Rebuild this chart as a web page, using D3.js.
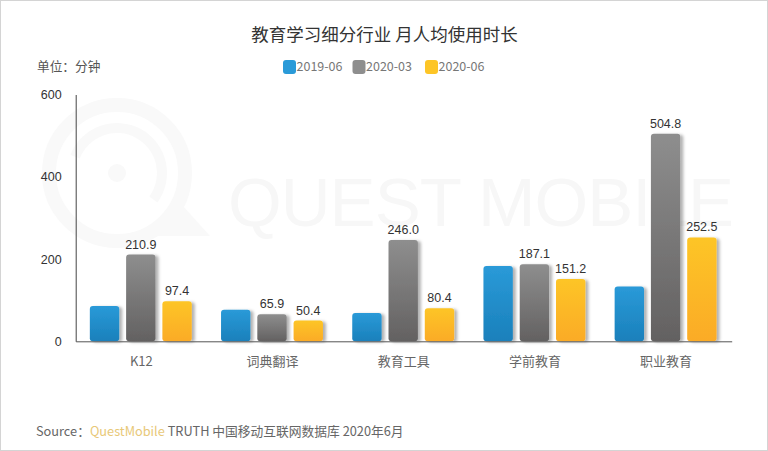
<!DOCTYPE html>
<html>
<head>
<meta charset="utf-8">
<script src="https://cdn.jsdelivr.net/npm/d3@7/dist/d3.min.js"></script>
<style>
  html, body { margin: 0; padding: 0; background: #fff; }
  svg { display: block; }
  text { font-family: "Noto Sans CJK SC", "Liberation Sans", sans-serif; }
</style>
</head>
<body>
<div id="chart"></div>
<script>
var categories = ['K12', '词典翻译', '教育工具', '学前教育', '职业教育'];
var seriesNames = ['2019-06', '2020-03', '2020-06'];
var values2019 = [86, 77, 69, 183, 133];
var values202003 = [210.9, 65.9, 246.0, 187.1, 504.8];
var values202006 = [97.4, 50.4, 80.4, 151.2, 252.5];
var yTicks = [0, 200, 400, 600];

var allValues = [values2019, values202003, values202006];
var showLabel = [false, true, true];
var colors = [['#2a9ad8', '#1a80bb'], ['#8e8e8e', '#636161'], ['#fdc526', '#fbab28']];

var width = 768, height = 451;

var svg = d3.select('#chart').append('svg').attr('width', width).attr('height', height);
var defs = svg.append('defs');

colors.forEach(function(c, i) {
  var grad = defs.append('linearGradient').attr('id', 'grad' + i)
    .attr('x1', 0).attr('y1', 0).attr('x2', 0).attr('y2', 1);
  grad.append('stop').attr('offset', '0%').attr('stop-color', c[0]);
  grad.append('stop').attr('offset', '100%').attr('stop-color', c[1]);
});

var shadow = defs.append('filter').attr('id', 'shadow')
  .attr('x', '-20%').attr('y', '-10%').attr('width', '150%').attr('height', '120%');
shadow.append('feDropShadow').attr('dx', 3).attr('dy', 1).attr('stdDeviation', 1.6)
  .attr('flood-color', '#000').attr('flood-opacity', 0.3);

// image border
svg.append('rect').attr('x', 0.5).attr('y', 0.5).attr('width', width - 1).attr('height', height - 1)
  .attr('fill', 'none').attr('stroke', '#d4d4d4');

// watermark
var wm = svg.append('g').attr('fill', 'none').attr('stroke', '#f9f9f9');
wm.append('circle').attr('cx', 117).attr('cy', 173).attr('r', 68).attr('stroke-width', 14);
wm.append('path').attr('d', d3.arc()({innerRadius: 40, outerRadius: 50, startAngle: -1.2, endAngle: 2.2}))
  .attr('transform', 'translate(117,173)').attr('fill', '#f9f9f9').attr('stroke', 'none');
wm.append('circle').attr('cx', 117).attr('cy', 173).attr('r', 9).attr('fill', '#f9f9f9').attr('stroke', 'none');
wm.append('path').attr('d', 'M182,205 L210,236 L150,236').attr('fill', '#f9f9f9').attr('stroke', 'none');
svg.append('text').text('QUEST MOBILE')
  .attr('x', 228).attr('y', 226).attr('fill', '#f7f7f7')
  .attr('font-size', 69).attr('textLength', 506)
  .attr('style', 'font-family:"Liberation Sans",sans-serif');

var x = d3.scaleBand().domain(categories).range([75.7, 731.7]);
var xSub = d3.scaleBand().domain(seriesNames).range([-54, 53]).paddingInner(0.19).paddingOuter(0.07);
var y = d3.scaleLinear().domain([0, 600]).range([341.3, 94.5]);

// bars
seriesNames.forEach(function(name, s) {
  var g = svg.append('g');
  g.selectAll('rect').data(categories).enter().append('rect')
    .attr('x', function(d) { return x(d) + x.bandwidth() / 2 + xSub(name); })
    .attr('y', function(d, i) { return y(allValues[s][i]); })
    .attr('width', xSub.bandwidth())
    .attr('height', function(d, i) { return y(0) - y(allValues[s][i]); })
    .attr('rx', 3)
    .attr('fill', 'url(#grad' + s + ')')
    .attr('filter', 'url(#shadow)');

  if (showLabel[s]) {
    g.selectAll('text').data(categories).enter().append('text')
      .attr('x', function(d) { return x(d) + x.bandwidth() / 2 + xSub(name) + xSub.bandwidth() / 2; })
      .attr('y', function(d, i) { return y(allValues[s][i]) - 6; })
      .attr('text-anchor', 'middle')
      .attr('font-size', 12.5)
      .attr('fill', '#333')
      .attr('style', 'font-family:"Liberation Sans",sans-serif')
      .text(function(d, i) { return allValues[s][i].toFixed(1); });
  }
});

// axes
var yAxis = svg.append('g').attr('transform', 'translate(75.7,0)')
  .call(d3.axisLeft(y).tickValues(yTicks).tickSize(0).tickPadding(14));
yAxis.select('.domain').attr('stroke', '#444').attr('stroke-width', 1);
yAxis.selectAll('text').attr('font-size', 12.5).attr('fill', '#333')
  .attr('style', 'font-family:"Liberation Sans",sans-serif');

var xAxis = svg.append('g').attr('transform', 'translate(0,341.3)')
  .call(d3.axisBottom(x).tickSize(0).tickPadding(15));
xAxis.select('.domain').attr('stroke', '#555').attr('stroke-width', 1);
xAxis.selectAll('text').attr('font-size', 13).attr('fill', '#666');

// title and unit
svg.append('text').text('教育学习细分行业 月人均使用时长')
  .attr('x', 384.5).attr('y', 41).attr('text-anchor', 'middle')
  .attr('font-size', 17.5).attr('fill', '#333');
svg.append('text').text('单位：分钟')
  .attr('x', 37).attr('y', 70.5).attr('font-size', 12.7).attr('fill', '#555');

// legend
var legendX = [283, 352.5, 425];
var legend = svg.append('g').selectAll('g').data(seriesNames).enter().append('g')
  .attr('transform', function(d, i) { return 'translate(' + legendX[i] + ',60)'; });
legend.append('rect').attr('width', 13).attr('height', 14).attr('rx', 3)
  .attr('fill', function(d, i) { return colors[i][0]; });
legend.append('text').text(function(d) { return d; })
  .attr('x', 13.5).attr('y', 11).attr('font-size', 12.5).attr('fill', '#777');

// source
var source = svg.append('text').attr('x', 36).attr('y', 436).attr('font-size', 12.75).attr('fill', '#666');
source.append('tspan').text('Source：');
source.append('tspan').text('QuestMobile').attr('fill', '#e8c878');
source.append('tspan').text(' TRUTH 中国移动互联网数据库 2020年6月');
</script>
</body>
</html>
